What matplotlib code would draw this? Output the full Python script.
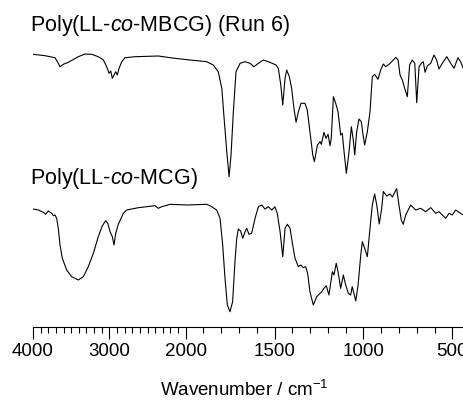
import numpy as np
import matplotlib
matplotlib.use("Agg")
import matplotlib.pyplot as plt
from matplotlib.ticker import FixedLocator, NullFormatter

plt.rcParams['font.family'] = ['Liberation Sans', 'DejaVu Sans']
plt.rcParams['mathtext.fontset'] = 'custom'
plt.rcParams['mathtext.rm'] = 'Liberation Sans'
plt.rcParams['mathtext.it'] = 'Liberation Sans:italic'

# ---- data (transmittance in arbitrary offset units) ----
wn_mbcg = [3996, 3843, 3712, 3669, 3646, 3603, 3538, 3407, 3319, 3231, 3145, 3079,
           3035, 3004, 2982, 2961, 2939, 2917, 2896, 2873, 2838, 2795, 2664, 2359,
           2205, 2140, 1976, 1882, 1845, 1817, 1797, 1784, 1769, 1756, 1745, 1732,
           1717, 1694, 1666, 1638, 1616, 1591, 1563, 1526, 1492, 1479, 1465, 1454,
           1441, 1432, 1417, 1404, 1391, 1379, 1366, 1351, 1329, 1316, 1301, 1285,
           1276, 1259, 1244, 1237, 1222, 1211, 1199, 1188, 1181, 1169, 1156, 1143,
           1128, 1119, 1109, 1096, 1081, 1068, 1057, 1049, 1038, 1025, 1012, 1002,
           993, 978, 963, 950, 937, 918, 903, 888, 875, 856, 837, 818, 805, 794,
           781, 768, 753, 740, 725, 711, 700, 687, 674, 663, 653, 640, 621, 603,
           588, 575, 556, 531, 509, 490, 468, 453, 438]
t_mbcg = [275.7, 274.3, 272.3, 266.7, 263.3, 265.7, 267.7, 273.3, 276.0, 275.7, 273.3, 270.0,
          263.3, 256.7, 259.0, 251.7, 255.0, 258.3, 255.0, 261.7, 268.3, 272.3, 273.3, 274.0,
          272.3, 271.7, 270.0, 268.3, 265.0, 258.3, 241.7, 211.7, 178.3, 153.3, 175.0, 218.3,
          258.3, 266.7, 268.3, 266.7, 263.3, 266.7, 270.0, 267.7, 265.0, 261.7, 245.0, 225.0,
          251.7, 260.0, 253.3, 241.7, 221.7, 207.7, 218.3, 226.7, 226.7, 220.0, 198.3, 175.0,
          168.3, 185.0, 188.3, 185.7, 197.7, 191.7, 195.7, 184.3, 191.7, 233.3, 226.7, 218.3,
          195.0, 196.7, 178.3, 156.7, 178.3, 203.3, 190.0, 175.0, 198.3, 211.0, 208.3, 195.0,
          185.0, 198.3, 218.3, 253.3, 255.7, 250.7, 260.0, 266.0, 263.3, 265.7, 269.0, 272.7, 270.0, 255.0,
          250.0, 241.7, 233.3, 265.0, 270.0, 266.7, 227.3, 263.3, 266.7, 268.3, 257.7, 264.3, 266.7, 275.0,
          270.0, 261.0, 266.7, 273.3, 266.7, 261.7, 272.3, 268.3, 261.7]

wn_mcg = [3996, 3931, 3865, 3834, 3800, 3755, 3734, 3712, 3690, 3669, 3646, 3616,
          3559, 3493, 3407, 3341, 3276, 3210, 3145, 3092, 3048, 3021, 2991, 2961,
          2939, 2917, 2883, 2847, 2817, 2773, 2621, 2402, 2359, 2314, 2205, 1994,
          1882, 1854, 1826, 1807, 1792, 1779, 1766, 1751, 1736, 1723, 1713, 1704,
          1691, 1679, 1666, 1657, 1644, 1629, 1610, 1591, 1572, 1554, 1535, 1516,
          1498, 1485, 1469, 1454, 1441, 1428, 1413, 1398, 1385, 1366, 1353, 1338,
          1325, 1314, 1301, 1282, 1263, 1244, 1237, 1222, 1209, 1194, 1175, 1166,
          1153, 1143, 1128, 1113, 1100, 1085, 1072, 1063, 1043, 1030, 1015, 1006,
          993, 978, 963, 950, 937, 925, 911, 897, 888, 869, 850, 837, 813, 800,
          787, 776, 762, 734, 706, 678, 650, 621, 593, 575, 556, 537, 518, 500,
          481, 466, 453, 438]
t_mcg = [121.0, 120.0, 117.7, 115.7, 119.0, 116.7, 114.3, 115.0, 111.7, 101.7, 85.0, 71.7,
         60.0, 53.3, 50.0, 53.3, 63.3, 76.7, 93.3, 104.3, 109.3, 106.7, 98.3, 93.3,
         85.0, 96.7, 105.7, 111.7, 116.7, 120.0, 122.3, 124.3, 121.7, 123.3, 125.7, 125.0,
         125.7, 123.3, 120.0, 111.7, 85.0, 51.7, 25.0, 18.3, 28.3, 68.3, 91.7, 101.0,
         99.0, 91.7, 98.3, 101.7, 95.7, 96.7, 111.7, 123.3, 125.0, 121.0, 123.3, 120.0,
         123.3, 116.7, 98.3, 73.3, 101.7, 105.7, 101.7, 85.0, 71.7, 63.3, 65.0, 62.3,
         63.3, 56.7, 38.3, 25.0, 33.3, 36.7, 37.7, 41.7, 44.3, 35.0, 58.3, 55.0,
         66.7, 58.3, 41.7, 55.0, 45.0, 36.7, 35.0, 43.3, 29.0, 45.0, 75.0, 88.3,
         81.7, 73.3, 101.7, 125.0, 136.0, 125.0, 106.0, 121.7, 138.5, 134.0, 136.0, 133.0, 141.5, 125.0,
         110.0, 105.7, 115.0, 125.0, 120.0, 121.7, 118.3, 122.3, 116.7, 118.3, 115.0, 111.7, 116.7, 115.0,
         120.0, 118.3, 116.7, 115.0]

label_mbcg = r"Poly(LL-$\it{co}$-MBCG) (Run 6)"
label_mcg = r"Poly(LL-$\it{co}$-MCG)"
major_ticks = [4000, 3000, 2000, 1500, 1000, 500]
minor_ticks = [w for w in range(4000, 499, -100) if w not in major_ticks]

# ---- IR axis: scale changes at 2000 cm-1 ----
K = 2.327
def fwd(w):
    w = np.asarray(w, float)
    return np.where(w <= 2000, w * K, 2000 * K + (w - 2000))
def inv(t):
    t = np.asarray(t, float)
    return np.where(t <= 2000 * K, t / K, t - 2000 * K + 2000)

W, H = 464, 401
fig = plt.figure(figsize=(W / 100, H / 100), dpi=100)
ax = fig.add_axes([33 / W, 1 - 327 / H, (W - 33) / W, 327 / H])
ax.set_xscale('function', functions=(fwd, inv))
ax.plot(wn_mbcg, t_mbcg, color='black', lw=0.8)
ax.plot(wn_mcg, t_mcg, color='black', lw=0.8)
ax.set_xlim(4000, 434)
ax.set_ylim(3, 330)

ax.xaxis.set_major_locator(FixedLocator(major_ticks))
ax.xaxis.set_minor_locator(FixedLocator(minor_ticks))
ax.xaxis.set_minor_formatter(NullFormatter())
ax.set_xticklabels([str(t) for t in major_ticks])
ax.tick_params(axis='x', which='major', direction='out', length=8.6, width=0.8,
               labelsize=13.5, pad=3)
ax.tick_params(axis='x', which='minor', direction='out', length=4.3, width=0.8)
ax.set_yticks([])
for s in ['left', 'right', 'top']:
    ax.spines[s].set_visible(False)
ax.spines['bottom'].set_linewidth(0.8)

fig.text(244 / W, 1 - 396 / H, r"Wavenumber / cm$^{-1}$", ha='center',
         va='baseline', fontsize=13.5)
fig.text(30 / W, 1 - 31 / H, label_mbcg, ha='left', va='baseline', fontsize=15.5)
fig.text(30 / W, 1 - 184 / H, label_mcg, ha='left', va='baseline', fontsize=15.5)

fig.savefig("out.png", dpi=100)
